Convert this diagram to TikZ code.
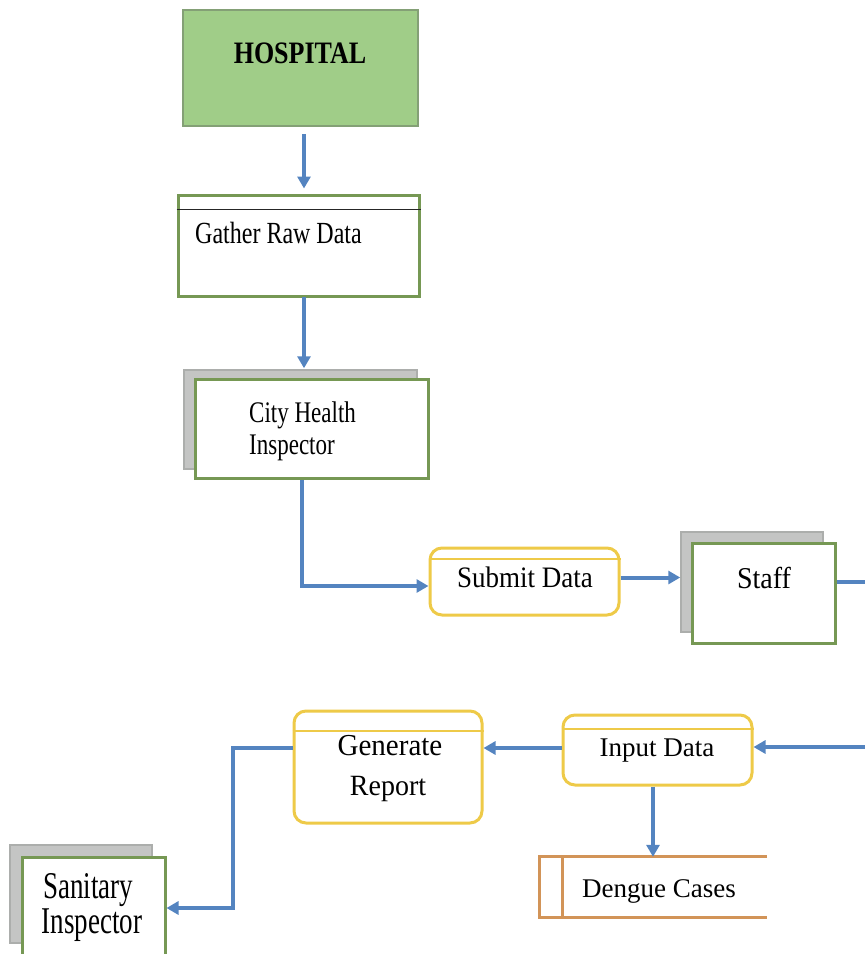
\documentclass[tikz,border=0pt]{standalone}
\usepackage{fontspec}
\setmainfont{Liberation Serif}
\usetikzlibrary{arrows.meta,calc}

\definecolor{flowblue}{RGB}{84,132,192}
\definecolor{boxgreen}{RGB}{118,152,84}
\definecolor{hospfill}{RGB}{160,205,136}
\definecolor{hospline}{RGB}{132,160,118}
\definecolor{shadowgray}{RGB}{196,197,196}
\definecolor{shadowline}{RGB}{172,174,172}
\definecolor{procyellow}{RGB}{238,202,72}
\definecolor{storeorange}{RGB}{210,148,88}

% tall, narrow lettering: text stretched vertically by #1
\newcommand{\tall}[2]{\scalebox{1}[#1]{#2}}

\begin{document}
\begin{tikzpicture}[x=1pt,y=-1pt,
  entitybox/.style={rectangle, draw=boxgreen, line width=3pt, fill=white, inner sep=0pt},
  shadowbox/.style={rectangle, draw=shadowline, line width=1.5pt, fill=shadowgray, inner sep=0pt},
  procbox/.style={rectangle, rounded corners=12pt, draw=procyellow, line width=3pt, fill=white, inner sep=0pt},
  flow/.style={draw=flowblue, line width=4pt, -{Triangle[length=12pt,width=13pt]}},
  txt/.style={inner sep=0pt, anchor=base},
  sz/.style={font=\fontsize{#1}{#1}\selectfont}
]
\useasboundingbox (0,0) rectangle (865,954);
\clip (0,0) rectangle (865,954);

% external source
\node[rectangle, draw=hospline, line width=2pt, fill=hospfill,
      minimum width=235pt, minimum height=116pt] (hosp) at (300.5,68) {};
\node[txt, font=\fontsize{26}{26}\selectfont\bfseries] (hospT) at (300,63) {\tall{1.2}{HOSPITAL}};

% gather raw data
\node[entitybox, minimum width=241pt, minimum height=101pt] (gather) at (298.5,245.5) {};
\draw[black!85, line width=1.5pt] ([yshift=-16pt]gather.north west) -- ([yshift=-16pt]gather.north east);
\node[txt, anchor=base west, sz=24] (gatherT) at (195,243) {\tall{1.28}{Gather Raw Data}};

% city health inspector
\node[shadowbox, minimum width=233pt, minimum height=99pt] (cityS) at (300.5,419.5) {};
\node[entitybox, minimum width=233pt, minimum height=99pt] (city) at (311.5,428.5) {};
\node[txt, anchor=base west, sz=23] (cityT1) at (249,422) {\tall{1.3}{City Health}};
\node[txt, anchor=base west, sz=23] (cityT2) at (249,454) {\tall{1.3}{Inspector}};

% submit data
\node[procbox, minimum width=189pt, minimum height=67pt] (submit) at (524.5,581.5) {};
\draw[procyellow, line width=2pt] ([yshift=-12pt]submit.north west) -- ([yshift=-12pt]submit.north east);
\node[txt, sz=27] (submitT) at (525,587) {\tall{1.1}{Submit Data}};

% staff
\node[shadowbox, minimum width=142pt, minimum height=100pt] (staffS) at (752,582) {};
\node[entitybox, minimum width=143pt, minimum height=100pt] (staff) at (763.5,593) {};
\node[txt, sz=28] (staffT) at (764,588) {\tall{1.08}{Staff}};

% input data
\node[procbox, minimum width=189pt, minimum height=70pt] (input) at (657.5,750) {};
\draw[procyellow, line width=2pt] ([yshift=-15pt]input.north west) -- ([yshift=-15pt]input.north east);
\node[txt, sz=27] (inputT) at (657,756) {Input Data};

% generate report
\node[procbox, minimum width=188pt, minimum height=112pt] (generate) at (388,767) {};
\draw[procyellow, line width=2pt] ([yshift=-21pt]generate.north west) -- ([yshift=-21pt]generate.north east);
\node[txt, sz=29] (genT1) at (390,755) {\tall{1.05}{Generate}};
\node[txt, sz=28] (genT2) at (388,795) {\tall{1.05}{Report}};

% sanitary inspector
\node[shadowbox, minimum width=142pt, minimum height=98pt] (sanitS) at (81,894) {};
\node[entitybox, minimum width=143pt, minimum height=101pt] (sanit) at (93.5,907.5) {};
\node[txt, sz=27] (sanT1) at (88,898) {\tall{1.4}{Sanitary}};
\node[txt, sz=27] (sanT2) at (92,933) {\tall{1.4}{Inspector}};

% dengue cases data store (open on the right)
\node[rectangle, draw=none, minimum width=227pt, minimum height=60pt, inner sep=0pt] (dengue) at (653.5,887) {};
\draw[storeorange, line width=3pt]
  (dengue.north east) -- (dengue.north west) -- (dengue.south west) -- (dengue.south east);
\draw[storeorange, line width=3pt] ([xshift=23pt]dengue.north west) -- ([xshift=23pt]dengue.south west);
\node[txt, anchor=base west, sz=27] (dengueT) at (582,897) {Dengue Cases};

% connectors
\coordinate (xA) at (304,0);
\coordinate (xB) at (302,0);
\coordinate (xC) at (653,0);
\coordinate (rc) at (870,747);
\coordinate (gc) at (233,908);

\draw[flow, shorten <=7pt, shorten >=5pt] (hosp.south -| xA) -- (gather.north -| xA);
\draw[flow, shorten <=-1pt, shorten >=1pt] (gather.south -| xA) -- (cityS.north -| xA);
\draw[flow] (city.south -| xB) |- ([yshift=-4.5pt]submit.west);
\draw[flow] ([yshift=4pt]submit.east) -- ([yshift=4pt]submit.east -| staffS.west);
\draw[flow] ([yshift=11pt]staff.east) -| (rc) -- ([yshift=3pt]input.east);
\draw[flow] ([yshift=2pt]input.west) -- ([yshift=2pt]input.west -| generate.east);
\draw[flow] ([yshift=19pt]generate.west) -| (gc) -- (gc -| sanit.east);
\draw[flow] (input.south -| xC) -- (dengue.north -| xC);
\end{tikzpicture}
\end{document}
